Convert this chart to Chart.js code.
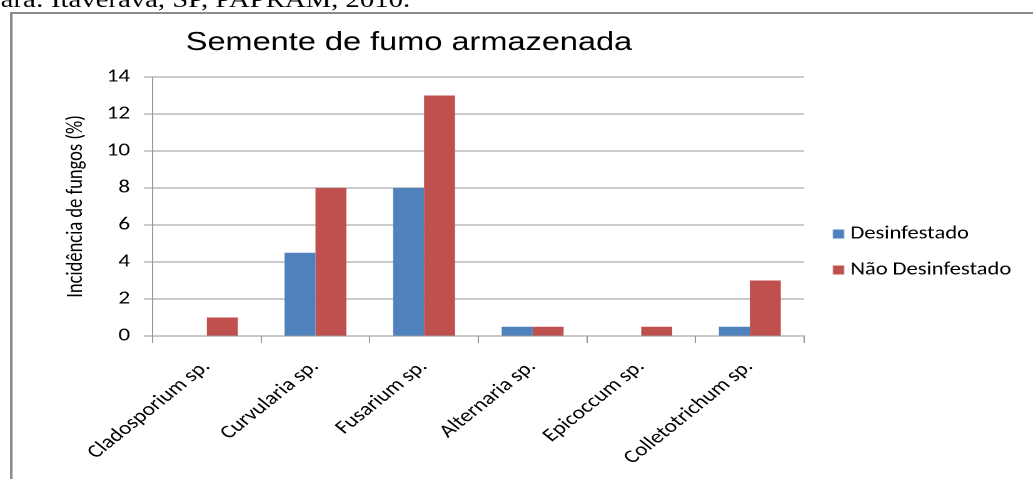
<!DOCTYPE html>
<html><head><meta charset="utf-8">
<script src="https://cdn.jsdelivr.net/npm/chart.js@4.4.0/dist/chart.umd.min.js"></script>
<style>html,body{margin:0;padding:0;background:#fff;overflow:hidden}</style>
</head><body>
<canvas id="c" width="826" height="479" style="display:block;width:1033px;height:479px"></canvas>
<script>
// ---- data ----
const categories = ['Cladosporium sp.', 'Curvularia sp.', 'Fusarium sp.', 'Alternaria sp.', 'Epicoccum sp.', 'Colletotrichum sp.'];
const seriesNames = ['Desinfestado', 'Não Desinfestado'];
const desinfestado = [0, 4.5, 8, 0.5, 0, 0.5];
const naoDesinfestado = [1, 8, 13, 0.5, 0.5, 3];
const yTicks = [0, 2, 4, 6, 8, 10, 12, 14];
const seriesColors = ['#4F81BD', '#C0504D'];
const titleText = 'Semente de fumo armazenada';
const yTitleText = 'Incidência de fungos (%)';
const headerText = 'ara: Itaverava, SP, PAPRAM, 2010.';

// ---- layout (unstretched units; canvas is stretched x1.25 by CSS) ----
const LABEL_FONT = 'Carlito, Lato, sans-serif';
const chartLeft = 122, chartRight = 643, chartTop = 77, chartBottom = 336, H = 479;
const gridColor = '#989898';

// legend marker: 9x9 square placed near the text
function marker(color) {
  const c = document.createElement('canvas');
  c.width = 20; c.height = 9;
  const g = c.getContext('2d');
  g.fillStyle = color;
  g.fillRect(10, 0, 9, 9);
  return c;
}
const markers = seriesColors.map(marker);

const decor = {
  id: 'decor',
  beforeDraw(chart) {
    const ctx = chart.ctx;
    ctx.save();
    ctx.fillStyle = '#fff';
    ctx.fillRect(0, 0, chart.width, chart.height);
    ctx.strokeStyle = '#8c8c8c';
    ctx.lineWidth = 2;
    ctx.strokeRect(9, 13, 3000, 3000);
    ctx.fillStyle = '#000';
    ctx.font = '23px "Liberation Serif"';
    ctx.textAlign = 'left';
    ctx.textBaseline = 'alphabetic';
    ctx.fillText(headerText, 0.5, 7);
    ctx.font = '26px "Liberation Sans"';
    ctx.textAlign = 'center';
    ctx.fillText(titleText, 327, 50);
    ctx.restore();
  }
};

const chart = new Chart(document.getElementById('c'), {
  type: 'bar',
  data: {
    labels: categories,
    datasets: [
      { label: seriesNames[0], data: desinfestado, backgroundColor: seriesColors[0], borderWidth: 0 },
      { label: seriesNames[1], data: naoDesinfestado, backgroundColor: seriesColors[1], borderWidth: 0 }
    ]
  },
  options: {
    responsive: false,
    animation: false,
    devicePixelRatio: 2,
    categoryPercentage: 0.57,
    barPercentage: 1.0,
    layout: { padding: { left: 0, top: chartTop, right: 0, bottom: 0 } },
    plugins: {
      title: { display: false },
      tooltip: { enabled: false },
      legend: {
        position: 'right',
        align: 'center',
        fullSize: false,
        title: { display: true, text: ' ', font: { size: 10 }, padding: { top: 0, bottom: 79 } },
        labels: {
          usePointStyle: true,
          boxWidth: 10, boxHeight: 9, padding: 18,
          color: '#000', font: { family: LABEL_FONT, size: 18 },
          generateLabels(ch) {
            const items = Chart.defaults.plugins.legend.labels.generateLabels(ch);
            items.forEach((it, i) => { it.pointStyle = markers[i]; });
            return items;
          }
        }
      }
    },
    scales: {
      x: {
        afterFit(s) { s.height = H - chartBottom; },
        grid: { display: true, drawOnChartArea: false, drawTicks: true, tickLength: 7, color: gridColor },
        border: { display: true, color: gridColor },
        ticks: { minRotation: 45, maxRotation: 45, padding: 13, color: '#000', font: { family: LABEL_FONT, size: 18.5 } }
      },
      y: {
        min: 0, max: 14,
        afterFit(s) { s.width = chartLeft; },
        afterBuildTicks(s) { s.ticks = yTicks.map(v => ({ value: v })); },
        grid: { color: gridColor, tickLength: 7, drawTicks: true },
        border: { display: true, color: gridColor },
        ticks: { padding: 11, color: '#000', font: { family: LABEL_FONT, size: 18.5 } },
        title: { display: true, text: yTitleText, color: '#000', padding: { top: 50, bottom: 0 }, font: { family: LABEL_FONT, size: 18.5 } }
      }
    }
  },
  plugins: [decor]
});
// align the plot area's right edge with the reference
const diff = chartRight - chart.chartArea.right;
if (Math.abs(diff) > 0.1) {
  chart.options.layout.padding.right = Math.max(0, -diff);
  chart.update();
}
</script>
</body></html>
